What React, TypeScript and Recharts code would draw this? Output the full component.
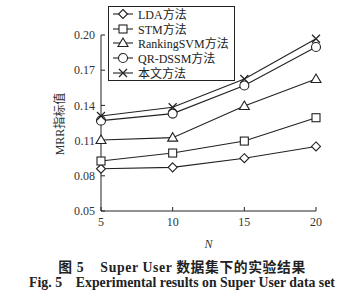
import { Line, LineChart, XAxis, YAxis } from 'recharts';

const nValues = [5, 10, 15, 20];
const yTicks = [0.05, 0.08, 0.11, 0.14, 0.17, 0.2];

const lda = [0.086, 0.0872, 0.095, 0.105];
const stm = [0.0926, 0.0994, 0.1096, 0.1295];
const rankingSvm = [0.1105, 0.1125, 0.1395, 0.1625];
const qrDssm = [0.127, 0.133, 0.157, 0.1898];
const ours = [0.131, 0.1384, 0.1625, 0.1968];

const seriesNames = ['LDA方法', 'STM方法', 'RankingSVM方法', 'QR-DSSM方法', '本文方法'];
const seriesKeys = ['lda', 'stm', 'rsvm', 'qr', 'ours'];
const seriesShapes = ['diamond', 'square', 'triangle', 'circle', 'cross'];

const data = nValues.map((n, i) => ({
  n,
  lda: lda[i],
  stm: stm[i],
  rsvm: rankingSvm[i],
  qr: qrDssm[i],
  ours: ours[i],
}));

const INK = '#222';
const SERIF = '"Liberation Serif", "Times New Roman", "Noto Sans CJK SC", serif';

function Marker({ shape, cx, cy }: { shape: string; cx: number; cy: number }) {
  const p = { fill: '#fff', stroke: INK, strokeWidth: 1.1 };
  switch (shape) {
    case 'diamond':
      return <path d={`M${cx},${cy - 4.5} L${cx + 4.5},${cy} L${cx},${cy + 4.5} L${cx - 4.5},${cy} Z`} {...p} />;
    case 'square':
      return <rect x={cx - 4} y={cy - 4} width={8} height={8} {...p} />;
    case 'triangle':
      return <path d={`M${cx},${cy - 5} L${cx + 5},${cy + 3.5} L${cx - 5},${cy + 3.5} Z`} {...p} />;
    case 'circle':
      return <circle cx={cx} cy={cy} r={4.5} {...p} />;
    default:
      return (
        <path d={`M${cx - 4},${cy - 4} L${cx + 4},${cy + 4} M${cx + 4},${cy - 4} L${cx - 4},${cy + 4}`} stroke={INK} strokeWidth={1.2} fill="none" />
      );
  }
}

function makeDot(shape: string) {
  return (props: any) => {
    const { cx, cy, index } = props;
    if (cx == null || cy == null) return <g key={index} />;
    return (
      <g key={`${shape}-${index}`}>
        <Marker shape={shape} cx={cx} cy={cy} />
      </g>
    );
  };
}

function LegendBox() {
  return (
    <div
      style={{
        position: 'absolute',
        left: 108,
        top: 6,
        border: `1px solid ${INK}`,
        background: '#fff',
        padding: '0px 6px 0px 3px',
        width: 116,
        fontFamily: SERIF,
        fontSize: 12,
        color: '#222',
        whiteSpace: 'nowrap',
      }}
    >
      {seriesNames.map((name, i) => (
        <div key={name} style={{ display: 'flex', alignItems: 'center', height: 14.6 }}>
          <svg width={24} height={12} style={{ marginRight: 2, flexShrink: 0 }}>
            <line x1={1} y1={6} x2={21} y2={6} stroke={INK} strokeWidth={1.1} />
            <Marker shape={seriesShapes[i]} cx={11} cy={6} />
          </svg>
          <span>{name}</span>
        </div>
      ))}
    </div>
  );
}

function XLabel(props: any) {
  const { viewBox } = props;
  return (
    <text x={viewBox.x + viewBox.width / 2} y={viewBox.y + 37} textAnchor="middle" fontFamily={SERIF} fontStyle="italic" fontSize={12} fill="#333">
      N
    </text>
  );
}

export default function App() {
  return (
    <div style={{ position: 'absolute', left: 0, top: 0, width: 364, height: 300, background: '#fff' }}>
      <LineChart width={364} height={300} data={data} margin={{ top: 35, right: 48, left: 61, bottom: 69 }}>
        <XAxis
          dataKey="n"
          type="number"
          domain={[5, 20]}
          ticks={nValues}
          height={20}
          stroke={INK}
          tickSize={-4}
          tickMargin={10}
          tick={{ fontFamily: SERIF, fontSize: 12, fill: '#333' }}
          label={<XLabel />}
        />
        <YAxis
          type="number"
          domain={[0.05, 0.2]}
          ticks={yTicks}
          width={40}
          stroke={INK}
          tickSize={-4}
          tickMargin={10}
          tickFormatter={(v: number) => v.toFixed(2)}
          tick={{ fontFamily: SERIF, fontSize: 12, fill: '#333' }}
        />
        {seriesKeys.map((key, i) => (
          <Line
            key={key}
            dataKey={key}
            name={seriesNames[i]}
            type="linear"
            stroke={INK}
            strokeWidth={1.1}
            dot={makeDot(seriesShapes[i])}
            activeDot={false}
            isAnimationActive={false}
          />
        ))}
      </LineChart>
      <LegendBox />
      <div
        style={{
          position: 'absolute',
          left: 60,
          top: 124,
          transform: 'translate(-50%, -50%) rotate(-90deg)',
          fontFamily: SERIF,
          fontSize: 12,
          color: '#333',
          whiteSpace: 'nowrap',
          lineHeight: 1,
        }}
      >
        MRR指标值
      </div>
      <div
        style={{
          position: 'absolute',
          left: 0,
          top: 256,
          width: 364,
          textAlign: 'center',
          fontFamily: SERIF,
          fontWeight: 'bold',
          fontSize: 13.8,
          color: '#222',
          letterSpacing: 0.6,
        }}
      >
        图 5&nbsp;&nbsp;&nbsp; Super User 数据集下的实验结果
      </div>
      <div
        style={{
          position: 'absolute',
          left: 0,
          top: 275,
          width: 364,
          textAlign: 'center',
          fontFamily: SERIF,
          fontWeight: 'bold',
          fontSize: 13.8,
          color: '#222',
        }}
      >
        Fig. 5&nbsp;&nbsp;&nbsp; Experimental results on Super User data set
      </div>
    </div>
  );
}
